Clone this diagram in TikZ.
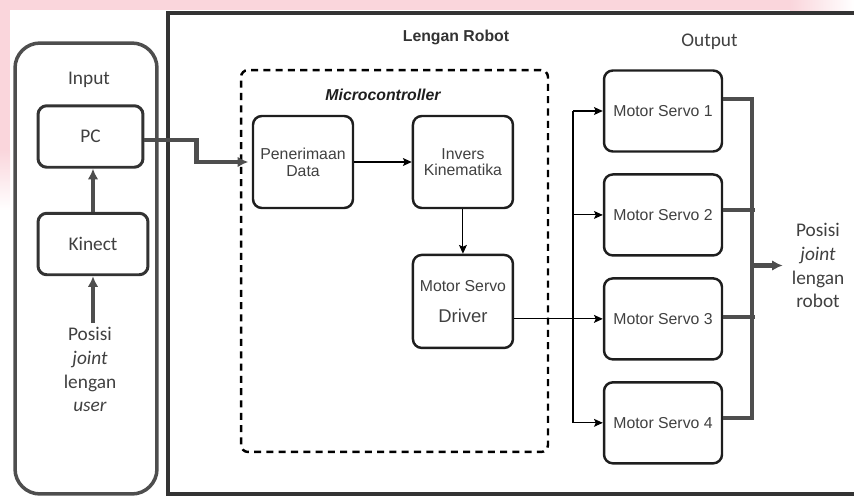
\documentclass[tikz,border=0pt]{standalone}
\usepackage{fontspec}
\setmainfont{Carlito}
\newfontfamily\arialfont{Liberation Sans}
\usetikzlibrary{arrows.meta,positioning}
\definecolor{Ink}{HTML}{1E1E1E}
\definecolor{Frame}{HTML}{333333}
\definecolor{Pipe}{HTML}{4E4E4E}
\definecolor{Label}{HTML}{404040}
\definecolor{Blush}{HTML}{FAD6DC}

\begin{document}
\begin{tikzpicture}[
      x=0.02cm, y=-0.02cm,
      blk/.style={draw=Ink, line width=1.4pt, rounded corners=5pt,
                  minimum width=2cm, minimum height=1.84cm, align=center,
                  font=\arialfont\fontsize{9}{9.5}\selectfont, text=Label},
      mbox/.style={blk, minimum width=2.36cm, minimum height=1.62cm},
      inbox/.style={draw=Frame, line width=1.7pt, rounded corners=5pt,
                    minimum height=1.23cm, font=\fontsize{11}{13.6}\selectfont, text=Label},
      lbl/.style={align=center, font=\fontsize{11}{13.6}\selectfont, text=Label, inner sep=2pt},
      pipe/.style={draw=Pipe, line width=2.3pt},
      pipetip/.style={pipe, -{Latex[length=6pt,width=6pt]}},
      wire/.style={draw=black, line width=0.6pt, -{Stealth[length=5pt,width=4.5pt,inset=1pt]}}
    ]
      \useasboundingbox (0,0) rectangle (854,497);
      % pink edge of the scan
      \fill[Blush] (0,0) rectangle (790,10);
      \shade[left color=Blush, right color=white] (790,0) rectangle (854,10);
      \fill[Blush] (0,10) rectangle (10,150);
      \shade[top color=Blush, bottom color=white] (0,150) rectangle (10,210);

      % input side
      \node[draw=Pipe, line width=2pt, rounded corners=0.5cm,
            minimum width=2.84cm, minimum height=9.02cm] (inframe) at (86,268.5) {};
      \node[lbl] (intitle) at (89,80) {Input};
      \node[inbox, minimum width=2.1cm] (pc) at (90.5,136.5) {PC};
      \node[inbox, minimum width=2.2cm] (kin) at (93,244) {Kinect};
      \node[lbl] (user) at (90,369.5) {Posisi\\\textit{joint}\\lengan\\\textit{user}};

      % robot arm frame
      \draw[Frame, line width=2.3pt] (854,13) -- (168,13) -- (168,494) -- (854,494);
      \node[font=\arialfont\bfseries\fontsize{9}{11}\selectfont, text=Frame] (armtitle) at (456,37) {Lengan Robot};

      % microcontroller
      \node[draw=black, line width=1.4pt, dash pattern=on 4pt off 3pt, rounded corners=4pt,
            minimum width=6.14cm, minimum height=7.64cm] (mcu) at (394.5,261) {};
      \node[font=\arialfont\bfseries\itshape\fontsize{9}{11}\selectfont, text=Ink] (mcutitle) at (383,95) {Microcontroller};
      \node[blk] (pen) at (303,162) {Penerimaan\\Data};
      \node[blk, right=1.15cm of pen] (inv) {Invers\\Kinematika};
      \node[blk, below=0.89cm of inv, minimum height=1.86cm] (drv)
            {Motor Servo\\[8pt]\fontsize{10.5}{12}\selectfont Driver};

      % output
      \node[lbl] (outtitle) at (709.5,42) {Output};
      \node[mbox] (m1) at (663,111) {Motor Servo 1};
      \node[mbox, below=0.41cm of m1] (m2) {Motor Servo 2};
      \node[mbox, below=0.41cm of m2] (m3) {Motor Servo 3};
      \node[mbox, below=0.41cm of m3] (m4) {Motor Servo 4};
      \node[lbl] (rob) at (818,265.5) {Posisi\\\textit{joint}\\lengan\\robot};

      % connectors
      \draw[pipetip] (kin.south |- user.north) -- (kin.south);
      \draw[pipetip] (kin.north) -- (kin.north |- pc.south);
      \draw[pipetip, shorten >=2pt] ([yshift=-2pt]pc.east) -- ++(52,0) |- (pen.west);
      \draw[wire] (pen) -- (inv);
      \draw[wire] (inv) -- (drv);

      \coordinate (ibus) at (573,0);
      \draw[wire] (drv.east |- m3.west) -- (m3.west);
      \draw[line width=0.6pt] (ibus |- m1.west) -- (ibus |- m4.west);
      \foreach \m in {m1,m2,m4}
        \draw[wire] (ibus |- \m.west) -- (\m.west);

      \coordinate (obus) at (752,0);
      \coordinate (o1) at ([yshift=7pt]m1.east);
      \coordinate (o4) at ([yshift=3pt]m4.east);
      \draw[pipe] (o1) -| (obus |- o4) -- (o4);
      \draw[pipe] ([yshift=3pt]m2.east) -- ++(32,0);
      \draw[pipe] ([yshift=1pt]m3.east) -- ++(32,0);
      \draw[pipetip, shorten >=3pt] (obus |- rob.west) -- (rob.west);
    \end{tikzpicture}
\end{document}
